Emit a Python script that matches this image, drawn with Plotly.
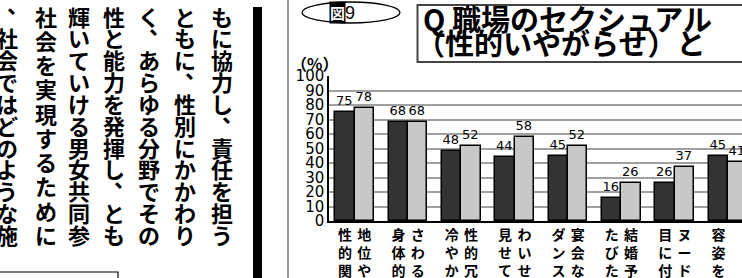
import plotly.graph_objects as go

# ---------------- data ----------------
labels_dark = ["性的関係", "身体的接", "冷やかし", "見せてお", "ダンスを", "たびたび", "目に付く", "容姿を話"]
labels_light = ["地位や権", "さわる、", "性的冗談", "わいせつ", "宴会など", "結婚予定", "ヌードポ", "しさし"]
values_dark = [75, 68, 48, 44, 45, 16, 26, 45]
values_light = [78, 68, 52, 58, 52, 26, 37, 41]
y_ticks = [0, 10, 20, 30, 40, 50, 60, 70, 80, 90, 100]

body_columns = [
    "ともに協力し、責任を担う",
    "とともに、性別にかかわり",
    "なく、あらゆる分野でその",
    "個性と能力を発揮し、とも",
    "に輝いていける男女共同参",
    "画社会を実現するために",
    "は、社会ではどのような施",
]
fig_label = "図"
fig_number = "9"
title_line1 = "Q 職場のセクシュアル"
title_line2 = "（性的いやがらせ）と"
unit_label = "（%）"

# ---------------- layout ----------------
W, H = 742, 278
L, T, B = 329, 76, 221
CJK = "Noto Sans CJK JP"
half = 0.181
bw = 0.362
groups = list(range(len(values_dark)))
x_dark = [g - half for g in groups]
x_light = [g + half for g in groups]


def vert(s):
    return "<br>".join(list(s))


fig = go.Figure()
fig.add_trace(go.Bar(
    x=x_dark, y=values_dark, width=bw,
    marker=dict(color="#333333", line=dict(color="black", width=1.5)),
    text=[str(v) for v in values_dark], textposition="outside",
    textfont=dict(family="DejaVu Sans", size=13, color="black"),
    cliponaxis=True, showlegend=False, hoverinfo="skip",
))
fig.add_trace(go.Bar(
    x=x_light, y=values_light, width=bw,
    marker=dict(color="#c8c8c8", line=dict(color="black", width=1.5)),
    text=[str(v) for v in values_light], textposition="outside",
    textfont=dict(family="DejaVu Sans", size=13, color="black"),
    cliponaxis=True, showlegend=False, hoverinfo="skip",
))

# left body text in vertical writing, placed on a pixel-space overlay axis
tx, ty, tt = [], [], []
col_x = [222, 185, 149, 114, 79, 46, 7]
for s, cx in zip(body_columns, col_x):
    n = len(s)
    pitch = (238.5 - 20) / (n - 2)
    for i, ch in enumerate(s):
        cy = 20 + (i - 1) * pitch
        dx, dy = (11, -13) if ch == "、" else (0, 0)
        tx.append(cx + dx)
        ty.append(cy + dy)
        tt.append(ch)
fig.add_trace(go.Scatter(
    x=tx, y=ty, text=tt, mode="text", textposition="middle center",
    textfont=dict(family=CJK, size=22, color="black", weight="bold"),
    xaxis="x2", yaxis="y2", cliponaxis=False, showlegend=False, hoverinfo="skip",
))

tickvals = []
ticktext = []
for g in groups:
    tickvals += [x_dark[g], x_light[g]]
    ticktext += [vert(labels_dark[g]), vert(labels_light[g])]

fig.update_layout(
    width=W, height=H,
    margin=dict(l=0, r=0, t=0, b=0, pad=0),
    paper_bgcolor="white", plot_bgcolor="rgba(0,0,0,0)",
    barmode="overlay", bargap=0,
    xaxis=dict(
        domain=[L / W, 1], anchor="y",
        range=[-0.482, 7.26], tickvals=tickvals, ticktext=ticktext,
        tickfont=dict(family=CJK, size=14, color="black", weight="bold"),
        showline=True, linecolor="black", linewidth=1.5,
        showgrid=False, zeroline=False, ticks="", fixedrange=True, automargin=False,
    ),
    yaxis=dict(
        domain=[(H - B) / H, (H - T) / H], anchor="x",
        range=[0, 100], tickvals=y_ticks,
        tickfont=dict(family="DejaVu Sans", size=15, color="black"),
        showline=True, linecolor="black", linewidth=1.5,
        showgrid=True, gridcolor="#a0a0a0", gridwidth=2,
        zeroline=False, ticks="", fixedrange=True, automargin=False,
    ),
    xaxis2=dict(domain=[0, 1], range=[0, W], visible=False, anchor="y2", fixedrange=True),
    yaxis2=dict(domain=[0, 1], range=[H, 0], visible=False, anchor="x2", fixedrange=True),
)

shapes = []
annots = []
# thick bar and thin divider
shapes.append(dict(type="rect", xref="x2", yref="y2", x0=253, x1=262, y0=7, y1=290,
                   fillcolor="black", line=dict(width=0)))
shapes.append(dict(type="line", xref="x2", yref="y2", x0=288, x1=288, y0=-5, y1=290,
                   line=dict(color="#333333", width=1)))
# small box bottom-left
shapes.append(dict(type="rect", xref="x2", yref="y2", x0=-5, x1=118, y0=272, y1=300,
                   fillcolor="white", line=dict(color="black", width=1.2)))
# ellipse with figure number
shapes.append(dict(type="circle", xref="x2", yref="y2", x0=302, x1=400, y0=2, y1=23,
                   line=dict(color="black", width=1.3)))
annots.append(dict(x=337, y=12.5, xref="x2", yref="y2",
                   text=fig_label, showarrow=False, xanchor="center", yanchor="middle",
                   bgcolor="black", borderpad=0,
                   font=dict(family=CJK, size=15, color="white", weight="bold")))
annots.append(dict(x=350, y=13, xref="x2", yref="y2",
                   text=fig_number, showarrow=False, xanchor="center", yanchor="middle",
                   font=dict(family="Liberation Sans", size=18, color="black")))
# title box
shapes.append(dict(type="rect", xref="x2", yref="y2", x0=417.5, x1=760, y0=5, y1=62,
                   fillcolor="rgba(0,0,0,0)", line=dict(color="#444444", width=2)))
annots.append(dict(x=421, y=17.5, xref="x2", yref="y2",
                   text=title_line1, showarrow=False, xanchor="left", yanchor="middle",
                   font=dict(family=CJK, size=29, color="black", weight="bold")))
annots.append(dict(x=414, y=42, xref="x2", yref="y2",
                   text=title_line2, showarrow=False, xanchor="left", yanchor="middle",
                   font=dict(family=CJK, size=29, color="black", weight="bold")))
# unit label
annots.append(dict(x=289, y=63, xref="x2", yref="y2",
                   text=unit_label, showarrow=False, xanchor="left", yanchor="middle",
                   font=dict(family=CJK, size=16, color="black", weight="bold")))

fig.update_layout(shapes=shapes, annotations=annots)
fig.write_html(
    "out.html",
    config={"displayModeBar": False},
    post_script="document.body.style.margin='0';document.body.style.padding='0';"
                "document.body.style.overflow='hidden';",
)
